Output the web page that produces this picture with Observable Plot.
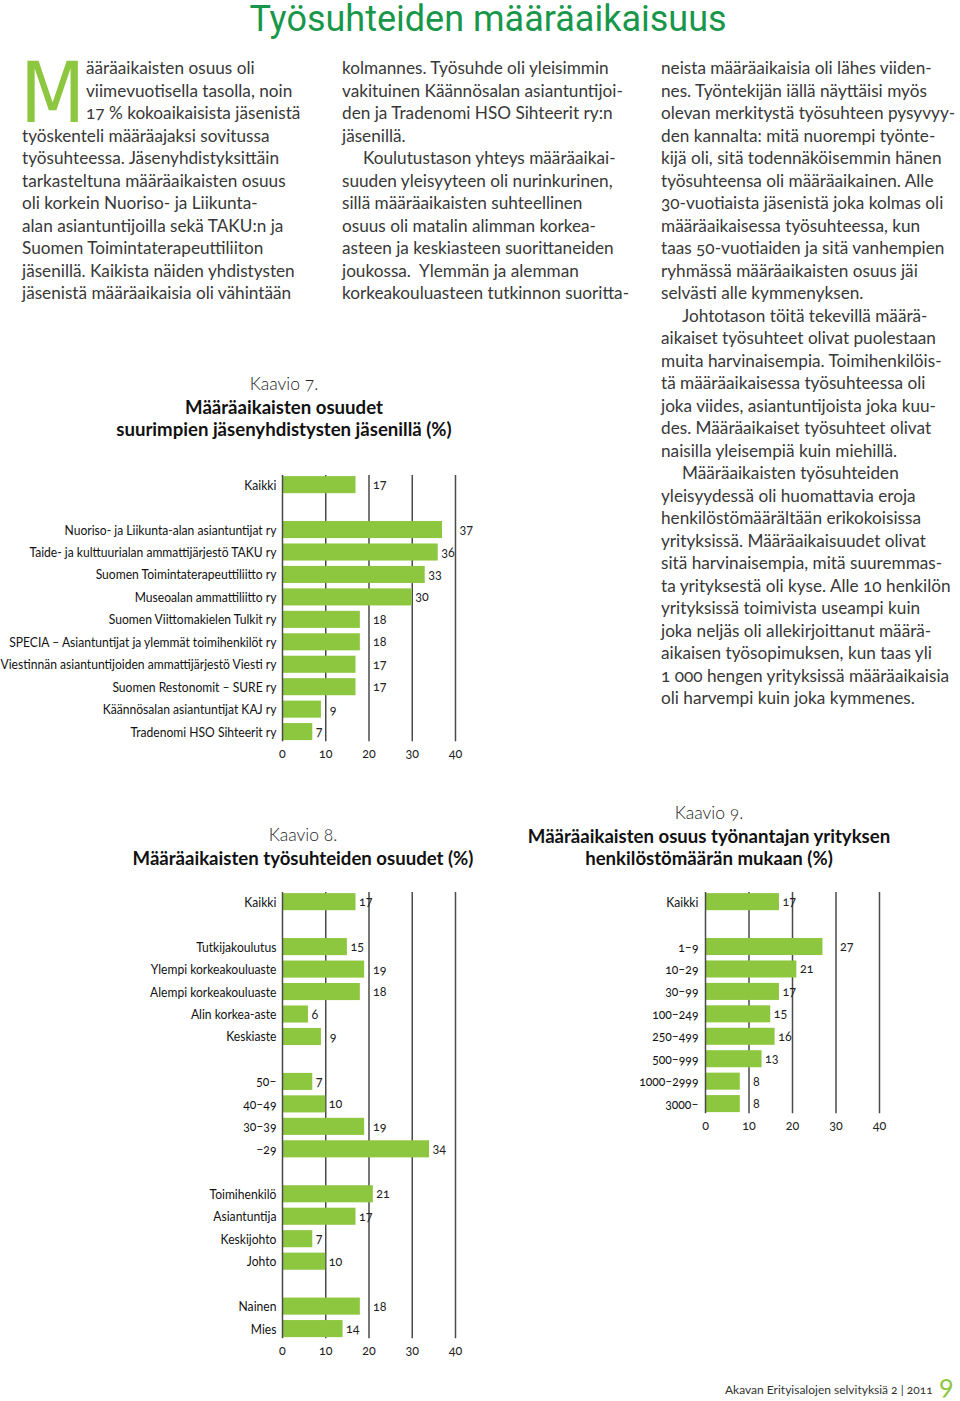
<!DOCTYPE html>
<html><head><meta charset="utf-8">
<script src="https://cdn.jsdelivr.net/npm/d3@7"></script>
<script src="https://cdn.jsdelivr.net/npm/@observablehq/plot@0.6"></script>
<style>
body{margin:0;background:#fff;}
#page{position:relative;width:960px;height:1401px;overflow:hidden;font-family:Lato,"Open Sans",sans-serif;color:#383838;}
.line{position:absolute;font-size:17.2px;line-height:22.5px;height:22.5px;white-space:pre;font-variant-numeric:oldstyle-nums;font-feature-settings:"onum" 1;}
.cap{position:absolute;text-align:center;line-height:22.5px;white-space:pre;color:#111;transform:translateX(-50%);}
.cap.k{font-weight:300;font-size:17.5px;font-variant-numeric:oldstyle-nums;font-feature-settings:"onum" 1;color:#222;}
.cap.b{font-weight:700;font-size:18.6px;}
.chart{position:absolute;}
.chart svg{overflow:visible;background:transparent;}
.chart svg text{font-variant-numeric:oldstyle-nums;font-feature-settings:"onum" 1;}
#title{position:absolute;left:488px;top:0px;line-height:38px;transform:translateX(-50%);font-family:Roboto,sans-serif;font-size:36px;color:#18974a;white-space:pre;}
#dropcap{position:absolute;left:20px;top:62px;font-family:"Liberation Sans Narrow","DejaVu Sans Condensed",sans-serif;font-size:84px;line-height:62px;color:#8dc63f;}
#footer{position:absolute;left:725px;top:1382px;font-size:12px;color:#333;white-space:pre;font-variant-numeric:oldstyle-nums;font-feature-settings:"onum" 1;}
#pnum{position:absolute;left:939px;top:1368px;font-size:27px;color:#8dc63f;font-variant-numeric:oldstyle-nums;font-feature-settings:"onum" 1;}
</style></head>
<body><div id="page">
<div id="title">Työsuhteiden määräaikaisuus</div>
<div id="dropcap">M</div>
<div id="footer">Akavan Erityisalojen selvityksiä 2 | 2011</div>
<div id="pnum">9</div>
</div>
<script>
// ---------- DATA ----------
const xTicks = [0, 10, 20, 30, 40];

const c7Categories = ["Kaikki", " ",
  "Nuoriso- ja Liikunta-alan asiantuntijat ry",
  "Taide- ja kulttuurialan ammattijärjestö TAKU ry",
  "Suomen Toimintaterapeuttiliitto ry",
  "Museoalan ammattiliitto ry",
  "Suomen Viittomakielen Tulkit ry",
  "SPECIA – Asiantuntijat ja ylemmät toimihenkilöt ry",
  "Viestinnän asiantuntijoiden ammattijärjestö Viesti ry",
  "Suomen Restonomit – SURE ry",
  "Käännösalan asiantuntijat KAJ ry",
  "Tradenomi HSO Sihteerit ry"];
const c7Values = [17, null, 37, 36, 33, 30, 18, 18, 17, 17, 9, 7];

const c8Categories = ["Kaikki", " ",
  "Tutkijakoulutus", "Ylempi korkeakouluaste", "Alempi korkeakouluaste", "Alin korkea-aste", "Keskiaste", "  ",
  "50–", "40–49", "30–39", "–29", "   ",
  "Toimihenkilö", "Asiantuntija", "Keskijohto", "Johto", "    ",
  "Nainen", "Mies"];
const c8Values = [17, null, 15, 19, 18, 6, 9, null, 7, 10, 19, 34, null, 21, 17, 7, 10, null, 18, 14];

const c9Categories = ["Kaikki", " ", "1–9", "10–29", "30–99", "100–249", "250–499", "500–999", "1000–2999", "3000–"];
const c9Values = [17, null, 27, 21, 17, 15, 16, 13, 8, 8];

const col1Lines = ["ääräaikaisten osuus oli", "viimevuotisella tasolla, noin", "17 % kokoaikaisista jäsenistä",
  "työskenteli määräajaksi sovitussa", "työsuhteessa. Jäsenyhdistyksittäin", "tarkasteltuna määräaikaisten osuus",
  "oli korkein Nuoriso- ja Liikunta-", "alan asiantuntijoilla sekä TAKU:n ja", "Suomen Toimintaterapeuttiliiton",
  "jäsenillä. Kaikista näiden yhdistysten", "jäsenistä määräaikaisia oli vähintään"];
const col2Lines = ["kolmannes. Työsuhde oli yleisimmin", "vakituinen Käännösalan asiantuntijoi-",
  "den ja Tradenomi HSO Sihteerit ry:n", "jäsenillä.", "\tKoulutustason yhteys määräaikai-",
  "suuden yleisyyteen oli nurinkurinen,", "sillä määräaikaisten suhteellinen", "osuus oli matalin alimman korkea-",
  "asteen ja keskiasteen suorittaneiden", "joukossa.  Ylemmän ja alemman", "korkeakouluasteen tutkinnon suoritta-"];
const col3Lines = ["neista määräaikaisia oli lähes viiden-", "nes. Työntekijän iällä näyttäisi myös",
  "olevan merkitystä työsuhteen pysyvyy-", "den kannalta: mitä nuorempi työnte-", "kijä oli, sitä todennäköisemmin hänen",
  "työsuhteensa oli määräaikainen. Alle", "30-vuotiaista jäsenistä joka kolmas oli", "määräaikaisessa työsuhteessa, kun",
  "taas 50-vuotiaiden ja sitä vanhempien", "ryhmässä määräaikaisten osuus jäi", "selvästi alle kymmenyksen.",
  "\tJohtotason töitä tekevillä määrä-", "aikaiset työsuhteet olivat puolestaan", "muita harvinaisempia. Toimihenkilöis-",
  "tä määräaikaisessa työsuhteessa oli", "joka viides, asiantuntijoista joka kuu-", "des. Määräaikaiset työsuhteet olivat",
  "naisilla yleisempiä kuin miehillä.", "\tMääräaikaisten työsuhteiden", "yleisyydessä oli huomattavia eroja",
  "henkilöstömäärältään erikokoisissa", "yrityksissä. Määräaikaisuudet olivat", "sitä harvinaisempia, mitä suuremmas-",
  "ta yrityksestä oli kyse. Alle 10 henkilön", "yrityksissä toimivista useampi kuin", "joka neljäs oli allekirjoittanut määrä-",
  "aikaisen työsopimuksen, kun taas yli", "1 000 hengen yrityksissä määräaikaisia", "oli harvempi kuin joka kymmenes."];

const cap7 = ["Kaavio 7.", "Määräaikaisten osuudet", "suurimpien jäsenyhdistysten jäsenillä (%)"];
const cap8 = ["Kaavio 8.", "Määräaikaisten työsuhteiden osuudet (%)"];
const cap9 = ["Kaavio 9.", "Määräaikaisten osuus työnantajan yrityksen", "henkilöstömäärän mukaan (%)"];

// ---------- LAYOUT ----------
const page = document.getElementById("page");
function addLines(lines, left, top, firstIndent) {
  lines.forEach((t, i) => {
    const d = document.createElement("div");
    d.className = "line";
    let x = left;
    if (i < firstIndent.count) x += firstIndent.px;
    if (t.startsWith("\t")) { t = t.slice(1); x += 21; }
    d.style.left = x + "px";
    d.style.top = (top + i * 22.5) + "px";
    d.textContent = t;
    page.appendChild(d);
  });
}
addLines(col1Lines, 22, 57, {count: 3, px: 64});
addLines(col2Lines, 342, 57, {count: 0, px: 0});
addLines(col3Lines, 661, 57, {count: 0, px: 0});

function addCaption(lines, cx, top) {
  lines.forEach((t, i) => {
    const d = document.createElement("div");
    d.className = "cap " + (i === 0 ? "k" : "b");
    d.style.left = cx + "px";
    d.style.top = (top + i * 22.5) + "px";
    d.textContent = t;
    page.appendChild(d);
  });
}
addCaption(cap7, 284, 373);
addCaption(cap8, 303, 824);
addCaption(cap9, 709, 802);

const GREEN = "#8dc63f";
const PI = 0.24, PO = 0.05;
const LABEL_SQUEEZE = 0.865;
const digitW = ch => ch === "1" ? 0.5 : 1.35;
function labelX(v, clearance) {
  const w = String(v).split("").reduce((s, c) => s + digitW(c), 0);
  const next = Math.ceil((v + 0.001) / 10) * 10;
  return (v + 0.7 + w + clearance > next) ? next + 0.9 : v + 0.7;
}

function barChart(cats, vals, o) {
  const rows = cats.map((c, i) => ({c, v: vals[i]})).filter(d => d.v != null);
  const n = cats.length;
  const mt = 10, mb = 30;
  const range = o.step * (n - PI + 2 * PO);
  const height = mt + range + mb;
  const top = o.firstCenter - o.step * (PO + (1 - PI) / 2) - mt;
  const chart = Plot.plot({
    width: o.width, height,
    marginLeft: o.ml, marginRight: o.mr, marginTop: mt, marginBottom: mb,
    style: {background: "transparent", overflow: "visible", fontFamily: "Lato, sans-serif", fontSize: "12.5px", color: "#222"},
    x: {domain: [0, 40]},
    y: {domain: cats, paddingInner: PI, paddingOuter: PO, round: false},
    marks: [
      Plot.ruleX(xTicks.filter(t => t > 0), {stroke: "#4a4a4a", strokeWidth: 1.5}),
      Plot.barX(rows, {x: "v", y: "c", fill: GREEN}),
      Plot.ruleX([0], {stroke: "#4a4a4a", strokeWidth: 1.5}),
      Plot.text(rows, {x: d => labelX(d.v, o.clearance), y: "c", text: d => String(d.v), textAnchor: "start", fontSize: 12.5, fill: "#222"}),
      Plot.axisX({ticks: xTicks, tickSize: 0, tickPadding: 7, label: null, fontSize: 12.5, fill: "#222"}),
      Plot.axisY({tickSize: 0, tickPadding: o.tp, label: null, fontSize: 14, fill: "#111"})
    ]
  });
  // horizontally condense the category labels around their right-aligned anchor
  const ax = o.ml - o.tp;
  chart.querySelectorAll("g").forEach(g => {
    const a = g.getAttribute("aria-label") || "";
    if (a === "y-axis tick label") {
      const prev = g.getAttribute("transform") || "";
      g.setAttribute("transform", `translate(${ax},0) scale(${LABEL_SQUEEZE},1) translate(${-ax},0) ${prev}`);
    }
  });
  const wrap = document.createElement("div");
  wrap.className = "chart";
  wrap.style.left = o.left + "px";
  wrap.style.top = top + "px";
  wrap.appendChild(chart);
  page.appendChild(wrap);
}

barChart(c7Categories, c7Values, {left: 0, width: 480, ml: 282, mr: 25, firstCenter: 485, step: 22.45, clearance: 0.5, tp: 6});
barChart(c8Categories, c8Values, {left: 0, width: 480, ml: 282, mr: 25, firstCenter: 902, step: 22.47, clearance: 0, tp: 6});
barChart(c9Categories, c9Values, {left: 520, width: 400, ml: 185, mr: 41, firstCenter: 902, step: 22.44, clearance: 0, tp: 7});
</script>
</body></html>
